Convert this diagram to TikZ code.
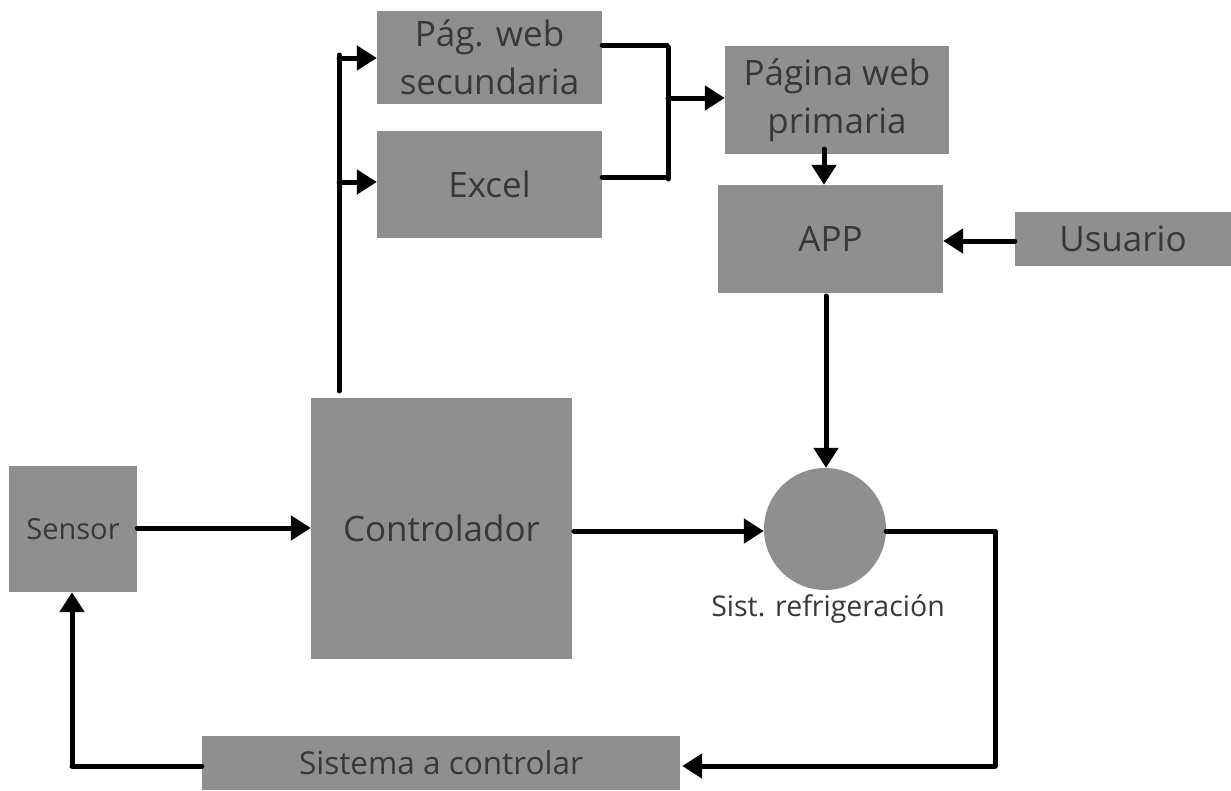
\documentclass[tikz,border=0pt]{standalone}
\usepackage{fontspec}
\setmainfont{Open Sans}
\usetikzlibrary{arrows.meta,calc}
\definecolor{boxgray}{HTML}{8F8F8F}
\definecolor{txt}{HTML}{383838}
\begin{document}
\begin{tikzpicture}[x=1pt,y=-1pt,
  blk/.style={rectangle,fill=boxgray,draw=none,text=txt,align=center,
    inner sep=0pt,font=\fontsize{35}{48}\selectfont},
  wire/.style={line width=5pt,line cap=round,line join=round},
  arr/.style={wire,-{Triangle[length=20pt,width=24pt]}}]
\useasboundingbox (0,0) rectangle (1231,790);

% blocks
\node[blk,minimum width=225pt,minimum height=93pt] (sec) at (489.5,57) {Pág. web\\secundaria};
\node[blk,minimum width=225pt,minimum height=107pt] (exc) at (489.5,184.5) {Excel};
\node[blk,minimum width=224pt,minimum height=108pt] (pri) at (837,100) {Página web\\primaria};
\node[blk,minimum width=225pt,minimum height=108pt] (app) at (830.5,239) {APP};
\node[blk,minimum width=216pt,minimum height=54pt] (usr) at (1123,239) {Usuario};
\node[blk,minimum width=128pt,minimum height=126pt,font=\fontsize{29}{34}\selectfont] (sen) at (73,529) {Sensor};
\node[blk,minimum width=261pt,minimum height=261pt,font=\fontsize{35}{40}\selectfont] (ctl) at (441.5,528.5) {Controlador};
\node[circle,fill=boxgray,minimum size=122pt,inner sep=0pt] (ref) at (825,529) {};
\node[text=txt,font=\fontsize{28.5}{32}\selectfont] (reflbl) at (828,609) {Sist. refrigeración};
\node[blk,minimum width=478pt,minimum height=54pt,font=\fontsize{31.5}{36}\selectfont] (pla) at (441,763) {Sistema a controlar};

% branch from the controller to the web page and spreadsheet
\coordinate (c0) at (339,391);
\coordinate (c1) at (339,55);
\coordinate (c2) at (339,58);
\coordinate (c3) at (339,182);
\draw[wire] (c0) -- (c1);
\draw[arr] (c2) -- (sec.west |- c2);
\draw[arr] (c3) -- (exc.west |- c3);

% merge into the primary web page
\coordinate (m1) at (667,45);
\coordinate (m2) at (667,177);
\coordinate (m3) at (668,98);
\draw[wire] (sec.east |- m1) -- (m1);
\draw[wire] (exc.east |- m2) -- (m2);
\draw[wire] (668,47) -- (668,179);
\draw[arr] (m3) -- (pri.west |- m3);

% primary web page and user into the app
\coordinate (p1) at (824,149);
\draw[arr] (p1) -- (app.north -| p1);
\coordinate (u1) at (1015,241);
\draw[arr] (usr.west |- u1) -- (app.east |- u1);

% app into the cooling system
\coordinate (a1) at (826,296);
\draw[arr] (a1) -- (ref.north -| a1);

% main loop
\coordinate (s1) at (137,528);
\draw[arr] (sen.east |- s1) -- (ctl.west |- s1);
\coordinate (k1) at (574,531);
\draw[arr] (k1) -- (ref.west |- k1);
\coordinate (r1) at (995,531);
\coordinate (r2) at (995,766);
\draw[wire] (ref.east |- r1) -- (r1) -- (r2);
\draw[arr] (r2) -- ($(pla.east |- r2)+(2,0)$);
\coordinate (b1) at (72,766);
\draw[wire] (pla.west |- b1) -- (b1);
\draw[arr] (b1) -- (sen.south -| b1);
\end{tikzpicture}
\end{document}
